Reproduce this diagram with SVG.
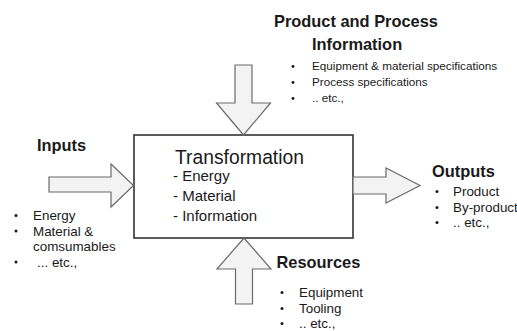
<svg xmlns="http://www.w3.org/2000/svg" width="517" height="331" viewBox="0 0 517 331">
  <style>
    text { font-family: "Liberation Sans", Arial, sans-serif; fill: #1a1a1a; }
    .head { font-size: 16.4px; font-weight: bold; }
    .item { font-size: 13.4px; }
    .small { font-size: 11.7px; }
    .title { font-size: 19.3px; }
    .sub { font-size: 15px; }
    .dot { fill: #1a1a1a; }
    .box { fill: #ffffff; stroke: #333333; stroke-width: 1.6; }
    .arrow { fill: #f3f3f3; stroke: #6b6b6b; stroke-width: 1.2; stroke-linejoin: miter; }
  </style>

  <rect width="517" height="331" fill="#ffffff"/>

  <!-- central process box -->
  <g id="transformation">
    <rect class="box" x="134" y="135" width="219" height="103"/>
    <text class="title" x="175" y="163.5">Transformation</text>
    <text class="sub" x="173" y="181.3">- Energy</text>
    <text class="sub" x="173" y="201">- Material</text>
    <text class="sub" x="173" y="221">- Information</text>
  </g>

  <!-- block arrows into and out of the box -->
  <g id="connectors">
    <polygon class="arrow" points="235,65 252,65 252,103 270.5,103 243.5,135 216.5,103 235,103"/>
    <polygon class="arrow" points="244,238 271,269 252.5,269 252.5,304 235.5,304 235.5,269 217,269"/>
    <polygon class="arrow" points="49,177 111,177 111,164 133.5,185.5 111,207 111,192 49,192"/>
    <polygon class="arrow" points="353,177 386,177 386,168 420,185.5 386,203 386,194 353,194"/>
  </g>

  <g id="information">
    <text class="head" x="274" y="27">Product and Process</text>
    <text class="head" x="312" y="50">Information</text>
    <circle class="dot" cx="293" cy="66.5" r="1.4"/>
    <text class="small" x="312" y="70">Equipment &amp; material specifications</text>
    <circle class="dot" cx="293" cy="82.5" r="1.4"/>
    <text class="small" x="312" y="86">Process specifications</text>
    <circle class="dot" cx="293" cy="98.5" r="1.4"/>
    <text class="small" x="312" y="102">.. etc.,</text>
  </g>

  <g id="inputs">
    <text class="head" x="37" y="151">Inputs</text>
    <circle class="dot" cx="16" cy="215.5" r="1.5"/>
    <text class="item" x="33" y="220">Energy</text>
    <circle class="dot" cx="16" cy="231" r="1.5"/>
    <text class="item" x="33" y="235.5">Material &amp;</text>
    <text class="item" x="33" y="251">comsumables</text>
    <circle class="dot" cx="16" cy="262" r="1.5"/>
    <text class="item" x="37" y="266.5">... etc.,</text>
  </g>

  <g id="outputs">
    <text class="head" x="432" y="176.5">Outputs</text>
    <circle class="dot" cx="437" cy="191.5" r="1.5"/>
    <text class="item" x="453" y="196">Product</text>
    <circle class="dot" cx="437" cy="207.5" r="1.5"/>
    <text class="item" x="453" y="212">By-product</text>
    <circle class="dot" cx="437" cy="222.5" r="1.5"/>
    <text class="item" x="453" y="227">.. etc.,</text>
  </g>

  <g id="resources">
    <text class="head" x="276.5" y="268">Resources</text>
    <circle class="dot" cx="282" cy="292.5" r="1.5"/>
    <text class="item" x="299" y="297">Equipment</text>
    <circle class="dot" cx="282" cy="308.5" r="1.5"/>
    <text class="item" x="299" y="313">Tooling</text>
    <circle class="dot" cx="282" cy="323.5" r="1.5"/>
    <text class="item" x="299" y="328">.. etc.,</text>
  </g>
</svg>
